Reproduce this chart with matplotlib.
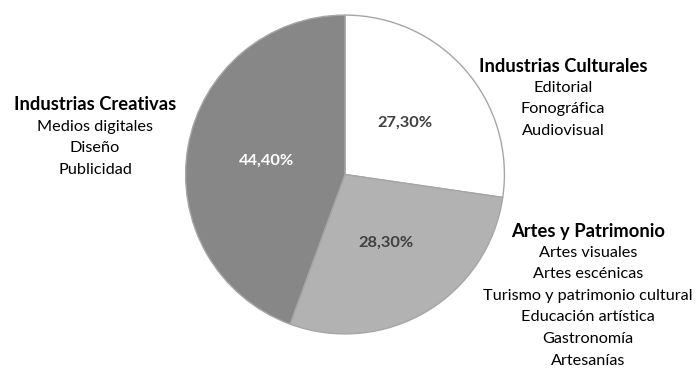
import matplotlib.pyplot as plt

plt.rcParams['font.family'] = ['Lato', 'DejaVu Sans']

sectores = ['Industrias Culturales', 'Artes y Patrimonio', 'Industrias Creativas']
porcentajes = [27.3, 28.3, 44.4]
colores = ['#ffffff', '#b2b2b2', '#878787']
color_pct = ['#404040', '#404040', '#ffffff']
subsectores = [
    ['Editorial', 'Fonográfica', 'Audiovisual'],
    ['Artes visuales', 'Artes escénicas', 'Turismo y patrimonio cultural',
     'Educación artística', 'Gastronomía', 'Artesanías'],
    ['Medios digitales', 'Diseño', 'Publicidad'],
]

W, H = 696, 369
fig = plt.figure(figsize=(W / 100, H / 100), dpi=100)

# pie centred at (345, 174.5) px with radius 161 px
cx, cy, r = 345, 174.5, 161
ax = fig.add_axes([(cx - r) / W, (H - cy - r) / H, 2 * r / W, 2 * r / H])

wedges, textos, autotextos = ax.pie(
    porcentajes, colors=colores, startangle=90, counterclock=False,
    radius=1, pctdistance=0.5,
    autopct=lambda p: f'{p:.2f}'.replace('.', ',') + '%',
    wedgeprops=dict(edgecolor='#a6a6a6', linewidth=1.0),
    textprops=dict(fontsize=11.8, fontweight='bold'))
for t, c in zip(autotextos, color_pct):
    t.set_color(c)
ax.set_xlim(-1.01, 1.01)
ax.set_ylim(-1.01, 1.01)
ax.axis('off')

# category labels: (x centre, y of title) in px
posiciones = [(563, 66), (588, 231), (95, 105)]
paso = 21.6
for nombre, subs, (x, y) in zip(sectores, subsectores, posiciones):
    fig.text(x / W, 1 - y / H, nombre, ha='center', va='center',
             fontsize=13.2, fontweight='bold', color='#000000')
    for i, s in enumerate(subs, start=1):
        fig.text(x / W, 1 - (y + i * paso) / H, s, ha='center', va='center',
                 fontsize=11.7, color='#000000')

fig.savefig('out.png', dpi=100)
